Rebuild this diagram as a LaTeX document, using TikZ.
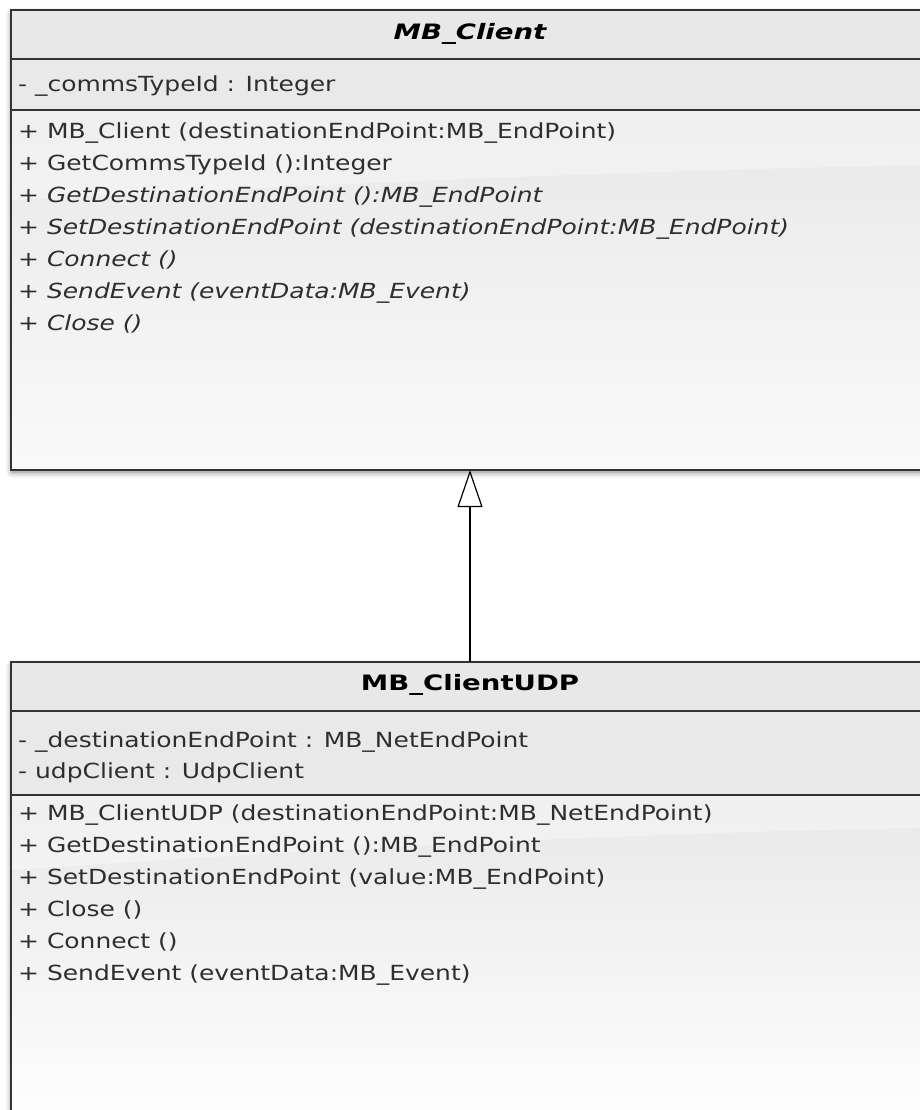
\documentclass[tikz,border=0pt]{standalone}
\usepackage{fontspec}
\setmainfont{DejaVu Sans}[FakeStretch=1.2]
\newfontfamily\titlefont{DejaVu Sans}[FakeStretch=1.3]
\usetikzlibrary{arrows.meta,shadows.blur}

\definecolor{edge}{HTML}{333333}
\definecolor{ink}{HTML}{2E2E2E}
\definecolor{compfill}{HTML}{E9E9E9}
\definecolor{headfill}{HTML}{E8E8E8}

\tikzset{
  classbox/.style={rectangle, draw=edge, line width=2pt, fill=white, inner sep=0pt,
    minimum width=916pt,
    blur shadow={shadow xshift=0pt, shadow yshift=-3pt, shadow blur radius=6pt, shadow opacity=55}},
  member/.style={anchor=base west, inner sep=0pt, text=ink,
    font=\fontsize{20.8}{24}\selectfont},
  abstract/.style={member, font=\fontsize{20.8}{24}\selectfont\itshape},
  classname/.style={anchor=base, inner sep=0pt, text=black,
    font=\titlefont\fontsize{21.2}{24}\selectfont\bfseries},
  sepline/.style={draw=edge, line width=2pt},
  outline/.style={draw=edge, line width=2pt},
  generalization/.style={draw=black, line width=1.2pt,
    -{Triangle[open, length=37pt, width=25pt, line width=1.2pt]}}
}

\begin{document}
\begin{tikzpicture}[x=1pt, y=-1pt]
\useasboundingbox (0,0) rectangle (920,1110);
\clip (0,0) rectangle (920,1110);

% ---------- abstract class MB_Client ----------
\node[classbox, minimum height=458pt] (client) at (470,240) {};
\fill[headfill] (12,11) rectangle (928,59);
\fill[compfill] (12,59) rectangle (928,110);
\shade[top color=headfill, bottom color=white!98!black] (12,110) rectangle (928,469);
\begin{scope}
  \clip (12,110) rectangle (928,469);
  \fill[white, opacity=0.35] (12,110) -- (928,110) -- (928,165)
    .. controls (650,170) and (300,185) .. (12,200) -- cycle;
\end{scope}
\draw[sepline] (12,59) -- (928,59);
\draw[sepline] (12,110) -- (928,110);
\draw[outline] (client.north west) rectangle (client.south east);

\node[classname, font=\titlefont\fontsize{21.2}{24}\selectfont\bfseries\itshape] (client-name) at (470,40) {MB\_Client};
\node[member] (client-a1) at (18,91.5) {- \_commsTypeId : Integer};
\node[member]   (client-o1) at (18,138.5) {+ MB\_Client (destinationEndPoint:MB\_EndPoint)};
\node[member]   (client-o2) at (18,170.5) {+ GetCommsTypeId ():Integer};
\node[abstract] (client-o3) at (18,202.5) {+ GetDestinationEndPoint ():MB\_EndPoint};
\node[abstract] (client-o4) at (18,234.5) {+ SetDestinationEndPoint (destinationEndPoint:MB\_EndPoint)};
\node[abstract] (client-o5) at (18,266.5) {+ Connect ()};
\node[abstract] (client-o6) at (18,298.5) {+ SendEvent (eventData:MB\_Event)};
\node[abstract] (client-o7) at (18,330.5) {+ Close ()};

% ---------- class MB_ClientUDP ----------
\node[classbox, minimum height=467pt] (udp) at (470,896.5) {};
\fill[headfill] (12,663) rectangle (928,711);
\fill[compfill] (12,711) rectangle (928,795);
\shade[top color=headfill, bottom color=white] (12,795) rectangle (928,1130);
\begin{scope}
  \clip (12,795) rectangle (928,1130);
  \fill[white, opacity=0.35] (12,795) -- (928,795) -- (928,828)
    .. controls (650,832) and (300,850) .. (12,870) -- cycle;
\end{scope}
\draw[sepline] (12,711) -- (928,711);
\draw[sepline] (12,795) -- (928,795);
\draw[outline] (udp.north west) rectangle (udp.south east);

\node[classname] (udp-name) at (470,690) {MB\_ClientUDP};
\node[member] (udp-a1) at (18,747.5) {- \_destinationEndPoint : MB\_NetEndPoint};
\node[member] (udp-a2) at (18,778.5) {- udpClient : UdpClient};
\node[member] (udp-o1) at (18,820) {+ MB\_ClientUDP (destinationEndPoint:MB\_NetEndPoint)};
\node[member] (udp-o2) at (18,852) {+ GetDestinationEndPoint ():MB\_EndPoint};
\node[member] (udp-o3) at (18,884) {+ SetDestinationEndPoint (value:MB\_EndPoint)};
\node[member] (udp-o4) at (18,916) {+ Close ()};
\node[member] (udp-o5) at (18,948) {+ Connect ()};
\node[member] (udp-o6) at (18,980) {+ SendEvent (eventData:MB\_Event)};

% ---------- generalization ----------
\draw[generalization] (udp.north) -- (client.south);
\end{tikzpicture}
\end{document}
